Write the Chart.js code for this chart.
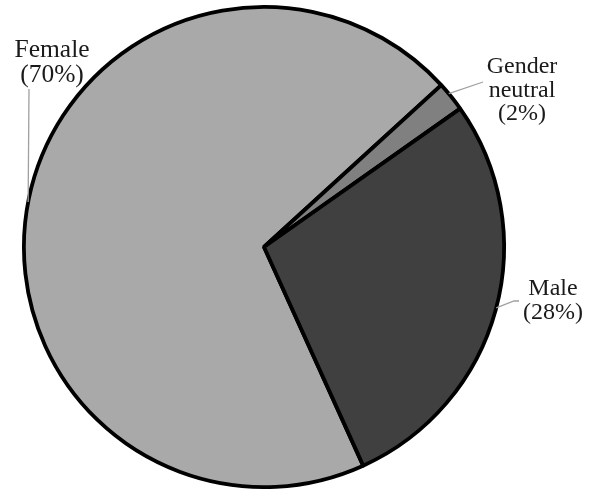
<!DOCTYPE html>
<html>
<head>
<meta charset="utf-8">
<script src="https://cdn.jsdelivr.net/npm/chart.js@4"></script>
<style>
  html, body { margin: 0; padding: 0; background: #fff; }
  #wrap { width: 592px; height: 491px; }
</style>
</head>
<body>
<div id="wrap"><canvas id="pie" width="592" height="491"></canvas></div>
<script>
// chart data
const categories = ['Female', 'Gender neutral', 'Male'];
const shares = [70, 2, 28];
const sliceColors = ['#a9a9a9', '#808080', '#404040'];

// outside label layout: text lines, text centre, first baseline, leader path
// anchor angle is where the leader touches the pie (degrees, canvas convention)
const labelLayout = [
    { lines: ['Female', '(70%)'], x: 52, y: 57, size: 25.5, gap: 25, angle: 190.8, path: [[29, 89]] },
    { lines: ['Gender', 'neutral', '(2%)'], x: 522, y: 73, size: 24, gap: 23.5, angle: -39.7, path: [[483, 82]] },
    { lines: ['Male', '(28%)'], x: 553, y: 295, size: 24, gap: 24, angle: 14.7, path: [[514, 301], [519, 301]] }
];

const outsideLabels = {
    id: 'outsideLabels',
    afterDraw(chart) {
        const ctx = chart.ctx;
        const arc = chart.getDatasetMeta(0).data[0];
        const cx = arc.x, cy = arc.y, r = arc.outerRadius;
        ctx.save();
        labelLayout.forEach(lab => {
            // leader line
            const a = lab.angle * Math.PI / 180;
            ctx.beginPath();
            ctx.moveTo(cx + Math.cos(a) * r, cy + Math.sin(a) * r);
            lab.path.forEach(p => ctx.lineTo(p[0], p[1]));
            ctx.strokeStyle = '#a0a0a0';
            ctx.lineWidth = 1.3;
            ctx.stroke();
            // text
            ctx.fillStyle = '#1a1a1a';
            ctx.font = lab.size + 'px "Liberation Serif", "DejaVu Serif", serif';
            ctx.textAlign = 'center';
            ctx.textBaseline = 'alphabetic';
            lab.lines.forEach((t, k) => ctx.fillText(t, lab.x, lab.y + k * lab.gap));
        });
        ctx.restore();
    }
};

new Chart(document.getElementById('pie'), {
    type: 'pie',
    data: {
        labels: categories,
        datasets: [{
            data: shares,
            backgroundColor: sliceColors,
            borderColor: '#000',
            borderWidth: 3.8,
            hoverOffset: 0
        }]
    },
    options: {
        responsive: false,
        animation: false,
        rotation: 155.6,
        layout: { padding: { left: 22, right: 86, top: 5, bottom: 2 } },
        plugins: {
            legend: { display: false },
            tooltip: { enabled: false }
        }
    },
    plugins: [outsideLabels]
});
</script>
</body>
</html>
